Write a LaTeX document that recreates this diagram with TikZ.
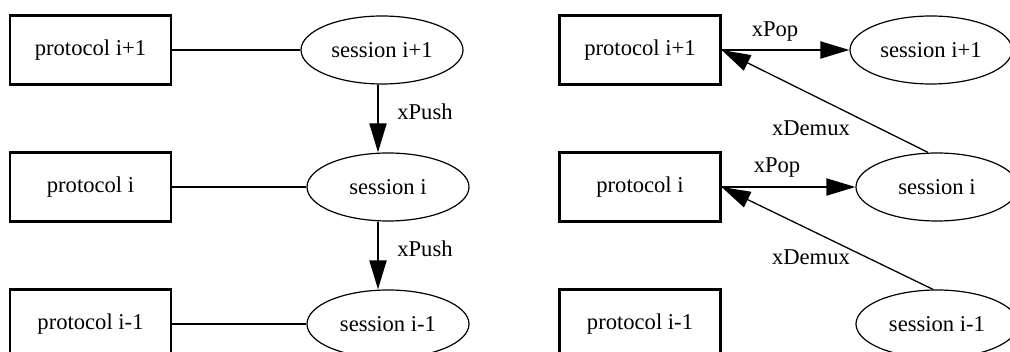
\documentclass[tikz,border=0pt]{standalone}
\usepackage{fontspec}
\setmainfont{Liberation Serif}
\usetikzlibrary{shapes.geometric,arrows.meta,calc}
\begin{document}
\begin{tikzpicture}[x=1pt,y=-1pt,
  every node/.style={font=\fontsize{22.6}{26}\selectfont},
  protobox/.style={draw, line width=2.2pt, minimum width=161pt, minimum height=69pt, inner sep=0pt},
  sessell/.style={draw, ellipse, line width=1.2pt, minimum width=162pt, minimum height=68pt, inner sep=0pt},
  link/.style={line width=2pt},
  callarrow/.style={line width=2pt, -{Triangle[length=29pt,width=17pt]}},
  upcall/.style={line width=1.3pt, -{Triangle[length=29pt,width=17pt]}},
  lbl/.style={inner sep=0pt}]
\useasboundingbox (0,0) rectangle (1010,352);
\fill[white] (0,0) rectangle (1010,352);
\clip (0,0) rectangle (1010,352);

% left panel: sessions pushing downwards
\node[protobox] (lp1) at (90.5,50) {protocol i+1};
\node[protobox] (lp0) at (90.5,187) {protocol i};
\node[protobox] (lpm) at (90.5,324) {protocol i-1};
\node[sessell] (ls1) at (382,50) {session i+1};
\node[sessell] (ls0) at (388,187) {session i};
\node[sessell] (lsm) at (388,324) {session i-1};
\draw[link] (lp1.east) -- (ls1.west);
\draw[link] (lp0.east) -- (ls0.west);
\draw[link] (lpm.east) -- (lsm.west);
\draw[callarrow] (ls1.south -| 378,0) -- (ls0.north -| 378,0);
\draw[callarrow] (ls0.south -| 378,0) -- (lsm.north -| 378,0);
\node[lbl] (push1) at (425,112) {xPush};
\node[lbl] (push2) at (425,249) {xPush};

% right panel: demultiplexing upwards, popping to the session
\node[protobox] (rp1) at (640,50) {protocol i+1};
\node[protobox] (rp0) at (640,187) {protocol i};
\node[protobox] (rpm) at (640,324) {protocol i-1};
\node[sessell] (rs1) at (931,50) {session i+1};
\node[sessell] (rs0) at (937,187) {session i};
\node[sessell] (rsm) at (937,324) {session i-1};
\draw[callarrow] (rp1.east) -- (rs1.west);
\draw[callarrow] (rp0.east) -- (rs0.west);
\draw[upcall] ([xshift=-9pt]rs0.north) -- (rp1.east);
\draw[upcall] ([xshift=-4pt]rsm.north) -- (rp0.east);
\node[lbl] (pop1) at (775,32) {xPop};
\node[lbl] (pop2) at (777,168) {xPop};
\node[lbl] (dmx1) at (811,128) {xDemux};
\node[lbl] (dmx2) at (811,257) {xDemux};
\end{tikzpicture}
\end{document}
